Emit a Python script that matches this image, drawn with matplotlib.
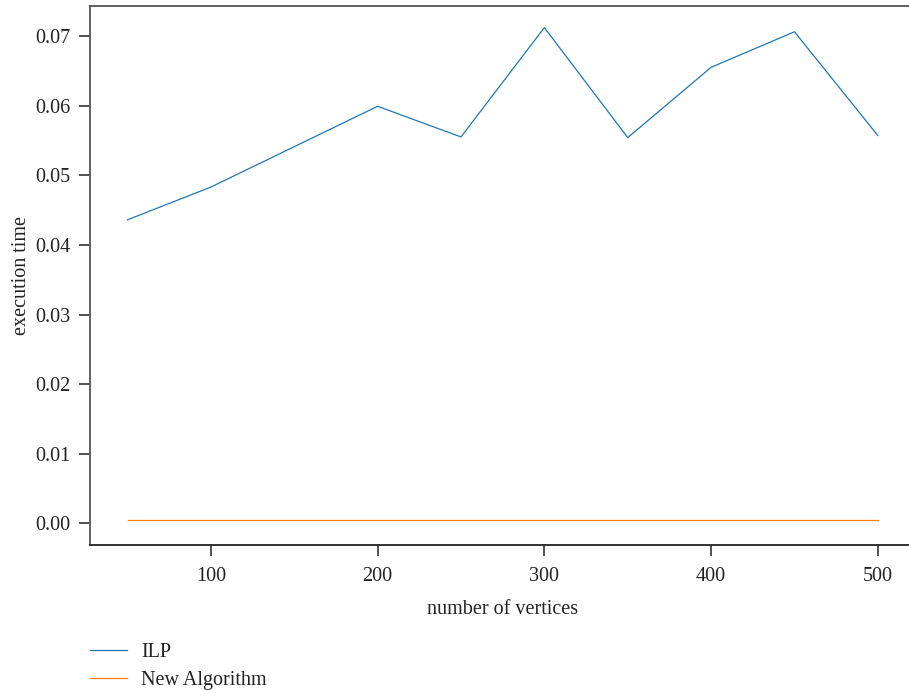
import numpy as np
import matplotlib.pyplot as plt

plt.rcParams['font.family'] = ['Liberation Serif', 'DejaVu Serif']

# data
vertices = [50, 100, 150, 200, 250, 300, 350, 400, 450, 500]
ilp_time = [0.0436, 0.0483, 0.0541, 0.0599, 0.0555, 0.0712, 0.0554, 0.0655, 0.0706, 0.0557]
new_time = [0.0005, 0.0005, 0.0005, 0.0005, 0.0005, 0.0005, 0.0005, 0.0005, 0.0005, 0.0005]

fig = plt.figure(figsize=(9.09, 6.9), dpi=100)
# right edge of the axes runs slightly past the figure, like the cropped original
ax = fig.add_axes([0.099, 0.2101, 0.908, 0.7812])

l1, = ax.plot(vertices, ilp_time, color='#1f77b4', linewidth=0.9, label='ILP')
l2, = ax.plot(vertices, new_time, color='#ff7f0e', linewidth=0.9, label='New Algorithm')

ax.set_xticks([100, 200, 300, 400, 500])
ax.set_yticks([0.00, 0.01, 0.02, 0.03, 0.04, 0.05, 0.06, 0.07])
ax.set_yticklabels([f"{v:.2f}" for v in ax.get_yticks()])
ax.set_xlim(27.5, 522.5)
ax.set_ylim(-0.0031, 0.0743)

for s in ax.spines.values():
    s.set_color('#555555')
    s.set_linewidth(1.3)
ax.spines['bottom'].set_color('#222222')

ax.tick_params(axis='both', labelsize=14.5, length=8, width=1.2, colors='#333333',
               labelcolor='#222222')
ax.tick_params(axis='x', pad=8)
ax.tick_params(axis='y', pad=6)

ax.set_xlabel("number of vertices", fontsize=14.5, color='#222222', labelpad=10)
ax.set_ylabel("execution time", fontsize=14.5, color='#222222', labelpad=3)

fig.legend(handles=[l1, l2], loc='upper left', bbox_to_anchor=(0.090, 0.080),
           frameon=False, fontsize=14.5, handlelength=1.85, handletextpad=0.7,
           labelspacing=0.45, borderaxespad=0, labelcolor='#222222')

fig.savefig('out.png', dpi=100)
